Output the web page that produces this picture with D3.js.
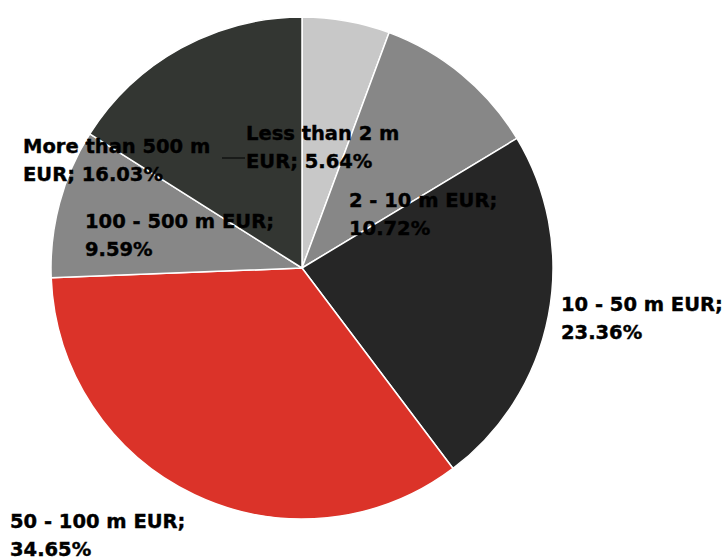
<!DOCTYPE html>
<html>
<head>
<meta charset="utf-8">
<script src="https://cdn.jsdelivr.net/npm/d3@7"></script>
<style>
  html, body { margin: 0; padding: 0; background: #fff; }
  svg { display: block; }
  .lbl { font-family: "DejaVu Sans", sans-serif; font-weight: 700; font-size: 19.5px; fill: #000; stroke: #000; stroke-width: 0.4px; }
</style>
</head>
<body>
<svg id="chart" width="727" height="559"></svg>
<script>
// Company size classes by turnover and their shares
const categories = ["Less than 2 m EUR", "2 - 10 m EUR", "10 - 50 m EUR", "50 - 100 m EUR", "100 - 500 m EUR", "More than 500 m EUR"];
const shares = [5.64, 10.72, 23.36, 34.65, 9.59, 16.03];
const labelLines = [
  ["Less than 2 m", "EUR; 5.64%"],
  ["2 - 10 m EUR;", "10.72%"],
  ["10 - 50 m EUR;", "23.36%"],
  ["50 - 100 m EUR;", "34.65%"],
  ["100 - 500 m EUR;", "9.59%"],
  ["More than 500 m", "EUR; 16.03%"]
];
const colors = ["#c8c8c8", "#878787", "#262626", "#db3329", "#878787", "#333632"];

// Label placement (left edge, first baseline)
const labelLayout = [
  { x: 246, y: 140 },
  { x: 349, y: 207 },
  { x: 561, y: 311 },
  { x: 10,  y: 528 },
  { x: 85,  y: 228 },
  { x: 23,  y: 153 }
];
const lineHeight = 27.5;

const svg = d3.select("#chart");
const cx = 302, cy = 268, radius = 251;

const pie = d3.pie().sort(null).value(d => d)(shares);
const arc = d3.arc().innerRadius(0).outerRadius(radius);

const g = svg.append("g").attr("transform", `translate(${cx},${cy})`);
g.selectAll("path.slice")
  .data(pie)
  .join("path")
  .attr("class", "slice")
  .attr("d", arc)
  .attr("fill", (d, i) => colors[i])
  .attr("stroke", "#fff")
  .attr("stroke-width", 1.5)
  .attr("stroke-linejoin", "round");

// Leader line for the largest-turnover label
svg.append("line")
  .attr("x1", 222).attr("y1", 158)
  .attr("x2", 245).attr("y2", 158)
  .attr("stroke", "#000").attr("stroke-width", 1);

const labels = svg.selectAll("text.lbl")
  .data(labelLines)
  .join("text")
  .attr("class", "lbl")
  .attr("x", (d, i) => labelLayout[i].x)
  .attr("y", (d, i) => labelLayout[i].y);
labels.selectAll("tspan")
  .data((d, i) => d.map(t => ({ t, i })))
  .join("tspan")
  .attr("x", d => labelLayout[d.i].x)
  .attr("dy", (d, j) => j === 0 ? 0 : lineHeight)
  .text(d => d.t);
</script>
</body>
</html>
